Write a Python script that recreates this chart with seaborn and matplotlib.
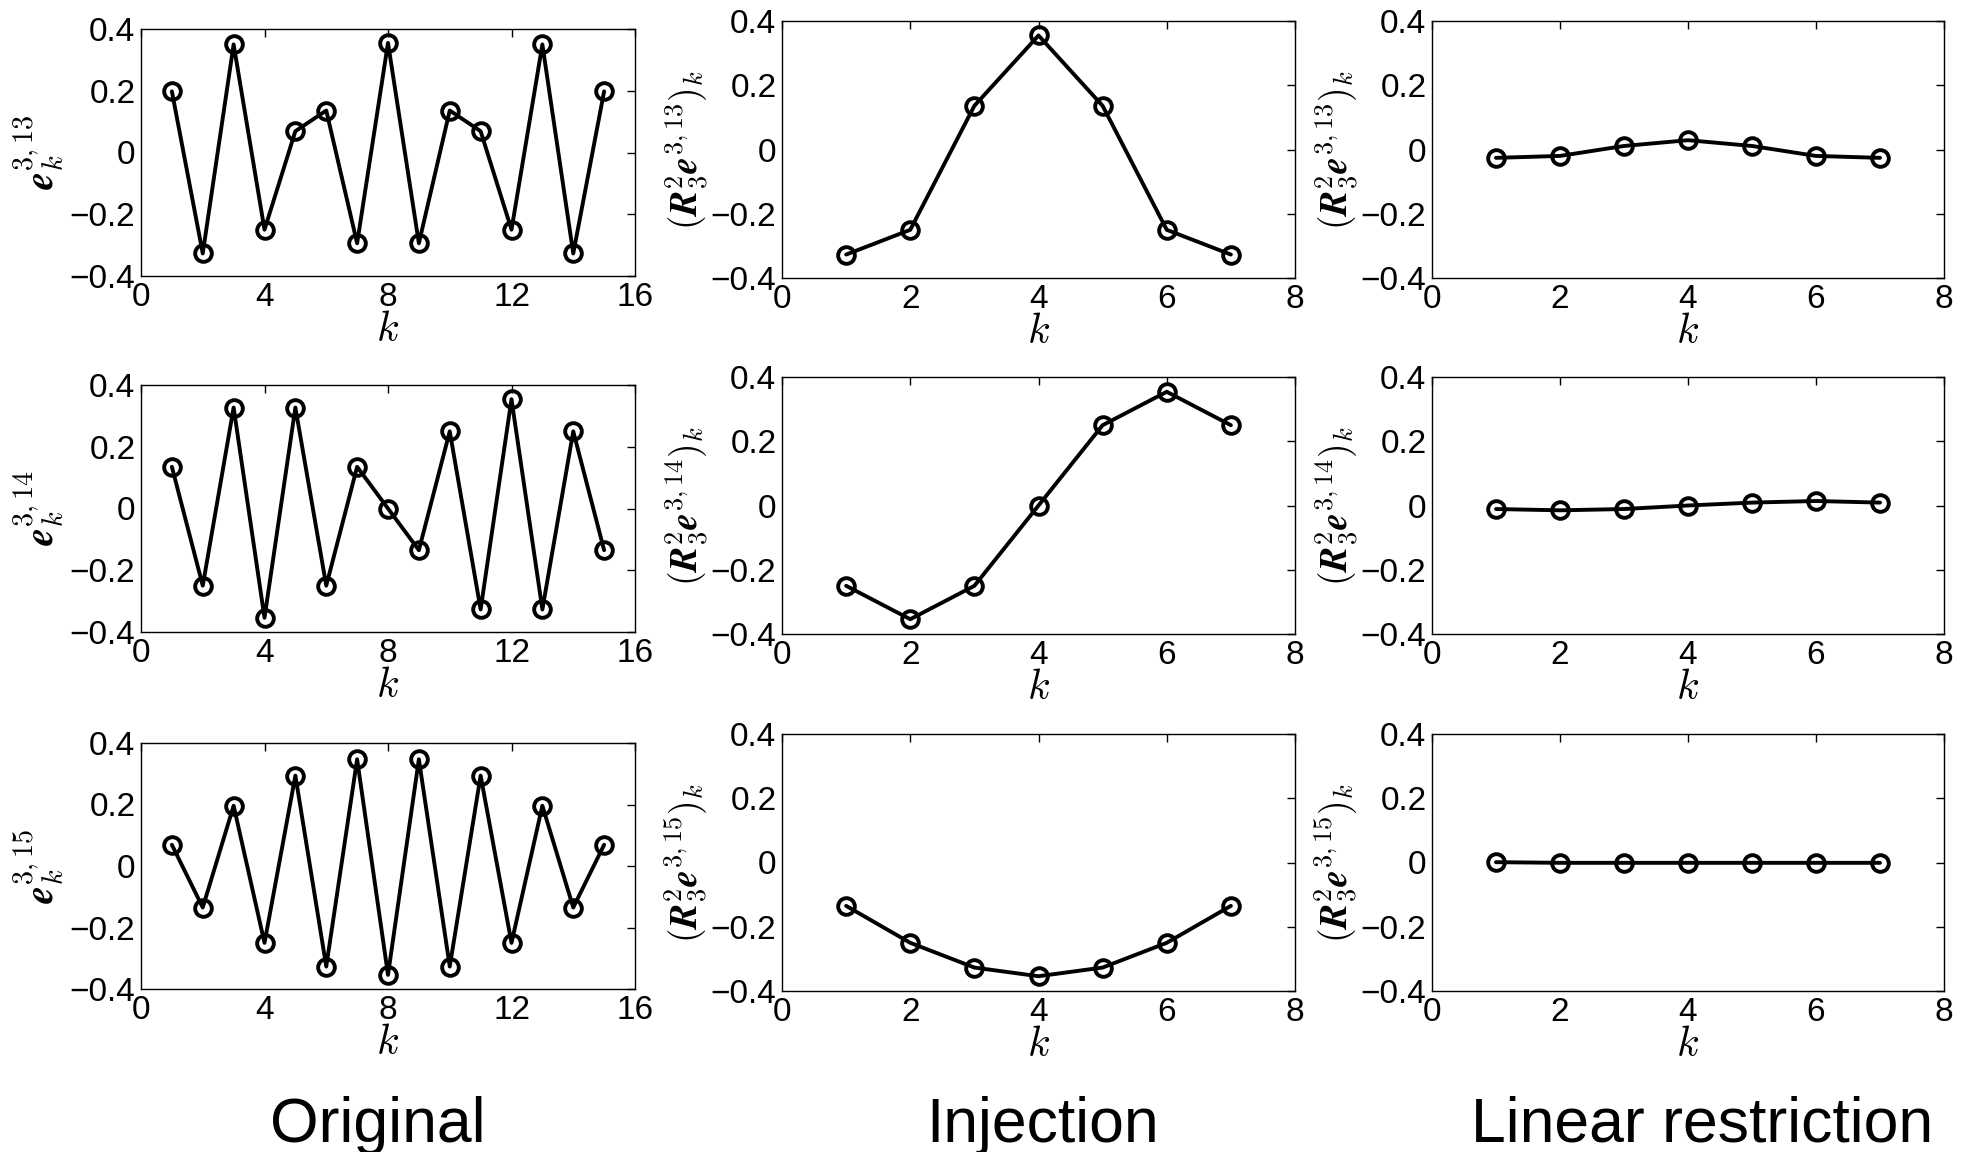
import matplotlib
matplotlib.use("Agg")
import matplotlib.pyplot as plt
import seaborn as sns
import numpy as np
import pandas as pd

# ---- data ----
k_fine = [1, 2, 3, 4, 5, 6, 7, 8, 9, 10, 11, 12, 13, 14, 15]
k_coarse = [1, 2, 3, 4, 5, 6, 7]

orig_13 = [0.198, -0.327, 0.350, -0.250, 0.069, 0.136, -0.294, 0.355, -0.294, 0.136, 0.069, -0.250, 0.350, -0.327, 0.198]
orig_14 = [0.135, -0.250, 0.327, -0.354, 0.327, -0.250, 0.135, 0.000, -0.135, 0.250, -0.327, 0.354, -0.327, 0.250, -0.135]
orig_15 = [0.069, -0.135, 0.196, -0.250, 0.294, -0.327, 0.347, -0.354, 0.347, -0.327, 0.294, -0.250, 0.196, -0.135, 0.069]

inj_13 = [-0.327, -0.250, 0.136, 0.355, 0.136, -0.250, -0.327]
inj_14 = [-0.250, -0.354, -0.250, 0.000, 0.250, 0.354, 0.250]
inj_15 = [-0.135, -0.250, -0.327, -0.354, -0.327, -0.250, -0.135]

lin_13 = [-0.026, -0.020, 0.011, 0.029, 0.011, -0.020, -0.026]
lin_14 = [-0.011, -0.015, -0.011, 0.000, 0.009, 0.014, 0.009]
lin_15 = [0.001, -0.001, -0.001, -0.001, -0.001, -0.001, -0.001]

modes = ["13", "14", "15"]
captions = ["Original", "Injection", "Linear restriction"]

sns.set_style("white")
plt.rcParams["font.family"] = ["Liberation Sans", "DejaVu Sans"]
plt.rcParams["mathtext.fontset"] = "cm"
plt.rcParams["axes.unicode_minus"] = True
plt.rcParams["text.color"] = "black"
plt.rcParams["axes.labelcolor"] = "black"

W, H = 1968, 1152
fig = plt.figure(figsize=(W / 100, H / 100), dpi=100)
fig.patch.set_facecolor("white")

# pixel boxes: (left, right) per column, (top, bottom) per row/column
col_x = [(141, 635), (782, 1295), (1432, 1944)]
row_y = [
    [(29, 276), (21, 278), (21, 278)],
    [(385, 632), (377, 634), (377, 634)],
    [(743, 989), (734, 991), (734, 991)],
]

data = [
    [orig_13, inj_13, lin_13],
    [orig_14, inj_14, lin_14],
    [orig_15, inj_15, lin_15],
]

for r in range(3):
    for c in range(3):
        x0, x1 = col_x[c]
        t, b = row_y[r][c]
        ax = fig.add_axes([x0 / W, 1 - b / H, (x1 - x0) / W, (b - t) / H])
        xs = k_fine if c == 0 else k_coarse
        df = pd.DataFrame({"k": xs, "v": data[r][c]})
        sns.lineplot(data=df, x="k", y="v", ax=ax, color="black", lw=2.8,
                     marker="o", markersize=12, markerfacecolor="none",
                     markeredgecolor="black", markeredgewidth=2.8)
        ax.set_ylim(-0.4, 0.4)
        ax.set_yticks([-0.4, -0.2, 0, 0.2, 0.4])
        ax.set_yticklabels(["\u22120.4", "\u22120.2", "0", "0.2", "0.4"])
        if c == 0:
            ax.set_xlim(0, 16)
            ax.set_xticks([0, 4, 8, 12, 16])
        else:
            ax.set_xlim(0, 8)
            ax.set_xticks([0, 2, 4, 6, 8])
        ax.tick_params(direction="in", length=6, width=1, top=True, right=True,
                       labelsize=24, pad=4, colors="black")
        for s in ax.spines.values():
            s.set_linewidth(1.0)
            s.set_color("black")
        ax.set_xlabel("$k$", fontsize=30, labelpad=-2)
        if c == 0:
            ax.set_ylabel(r"$\mathbfit{e}_k^{3,13}$".replace("13", modes[r]), fontsize=29)
            ax.yaxis.set_label_coords(-0.15, 0.5)
        else:
            ax.set_ylabel(r"$(\mathbfit{R}_3^2\mathbfit{e}^{3,13})_k$".replace("13", modes[r]), fontsize=27)
            ax.yaxis.set_label_coords(-0.14, 0.5)

cap_x = [378, 1043, 1702]
for cx, txt in zip(cap_x, captions):
    fig.text(cx / W, 1 - 1142 / H, txt, ha="center", va="baseline", fontsize=45,
             color="black")

fig.savefig("out.png", dpi=100, facecolor="white")
